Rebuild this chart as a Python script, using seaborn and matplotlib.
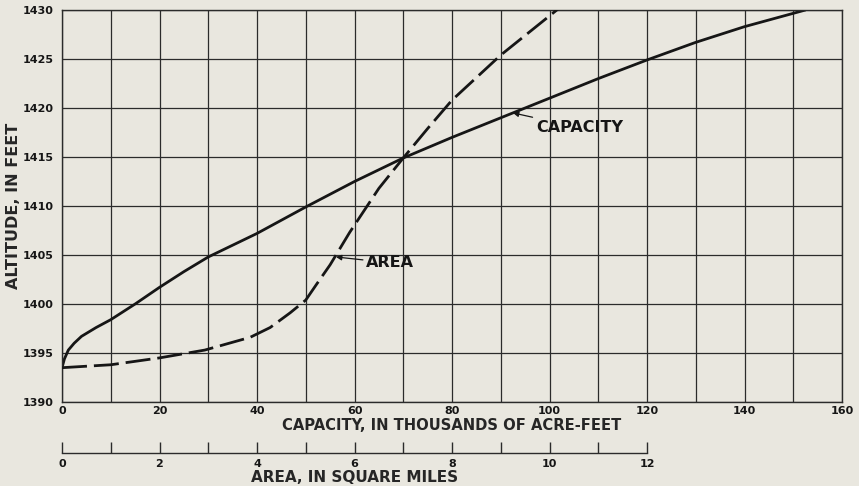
import matplotlib
matplotlib.use('Agg')
import matplotlib.pyplot as plt
from matplotlib.ticker import MultipleLocator
import pandas as pd
import seaborn as sns

# capacity curve, thousands of acre-feet vs altitude (ft)
capacity = [0, 0.5, 1.3, 2.5, 4, 7, 10, 15, 20, 25, 30, 40, 50, 60, 70,
            80, 90, 100, 110, 120, 130, 140, 152.5]
capacity_alt = [1393.5, 1394.4, 1395.3, 1396.0, 1396.7, 1397.6, 1398.4, 1400.0,
                1401.7, 1403.3, 1404.8, 1407.2, 1409.9, 1412.5, 1414.9, 1417.0,
                1419.0, 1421.0, 1423.0, 1424.9, 1426.7, 1428.3, 1430.0]

# area curve, square miles vs altitude (ft)
area = [0, 1, 2, 2.93, 3.86, 4.27, 4.68, 5.0, 5.22, 5.5, 5.9, 6.5, 7,
        7.5, 8, 9, 10, 10.2]
area_alt = [1393.5, 1393.8, 1394.5, 1395.3, 1396.6, 1397.6, 1399.1, 1400.4,
            1402.0, 1404.0, 1407.3, 1411.8, 1414.9, 1417.9, 1420.8,
            1425.4, 1429.4, 1430.2]

cap_ticks = list(range(0, 161, 20))
alt_ticks = list(range(1390, 1431, 5))
area_ticks = list(range(0, 13, 2))

PAPER = '#e9e7df'
INK = '#161616'
GRID = '#2b2b2b'

sns.set_style('white')
plt.rcParams['font.family'] = ['DejaVu Sans']
plt.rcParams['text.color'] = INK

W, H = 859, 486
fig = plt.figure(figsize=(W / 100, H / 100), dpi=100, facecolor=PAPER)

# main plot frame in pixel terms
left, right, top, bottom = 62, 842, 10, 402
ax = fig.add_axes([left / W, 1 - bottom / H, (right - left) / W, (bottom - top) / H])
ax.set_facecolor(PAPER)

cap_df = pd.DataFrame({'capacity': capacity, 'altitude': capacity_alt})
sns.lineplot(data=cap_df, x='capacity', y='altitude', ax=ax, color=INK,
             linewidth=2.0, sort=False)

ax.set_xlim(0, 160)
ax.set_ylim(1390, 1430)
ax.set_xticks(cap_ticks)
ax.xaxis.set_minor_locator(MultipleLocator(10))
ax.set_yticks(alt_ticks)
ax.grid(True, which='both', color=GRID, linewidth=0.9)
ax.tick_params(which='both', length=0, labelsize=8, colors=INK)
ax.tick_params(axis='x', pad=3)
ax.tick_params(axis='y', pad=6)
for lab in ax.get_xticklabels() + ax.get_yticklabels():
    lab.set_fontweight('bold')
for sp in ax.spines.values():
    sp.set_color(GRID)
    sp.set_linewidth(1.0)

ax.set_xlabel('CAPACITY, IN THOUSANDS OF ACRE-FEET', fontsize=10.6, fontweight='bold')
ax.xaxis.set_label_coords(0.5, -(425 - bottom) / (bottom - top), transform=ax.transAxes)
ax.xaxis.label.set_va('center')
ax.set_ylabel('ALTITUDE, IN FEET', fontsize=11.5, fontweight='bold')
ax.yaxis.set_label_coords(-(62 - 14) / (right - left), 0.5, transform=ax.transAxes)
ax.yaxis.label.set_va('center')

# area curve drawn on a twin x scale (1 sq mi = 10 thousand acre-feet on the grid)
ax_ar = ax.twiny()
area_df = pd.DataFrame({'area': area, 'altitude': area_alt})
sns.lineplot(data=area_df, x='area', y='altitude', ax=ax_ar, color=INK,
             linewidth=2.0, sort=False, linestyle=(0, (9, 2.5)))
ax_ar.set_xlim(0, 16)
ax_ar.set_ylim(1390, 1430)
ax_ar.axis('off')

arrow = dict(arrowstyle='-|>', color=INK, lw=0.9, mutation_scale=8, shrinkA=0, shrinkB=0)
ax.annotate('CAPACITY', xy=(92.5, 1419.5), xytext=(97.2, 1418.0),
            fontsize=11.5, fontweight='bold', va='center', ha='left', arrowprops=arrow)
ax.annotate('AREA', xy=(56.2, 1404.8), xytext=(62.4, 1404.2),
            fontsize=11.5, fontweight='bold', va='center', ha='left', arrowprops=arrow)

# separate area scale below
scale_y = 453
scale_w = 12 * (right - left) / 16
ax_sc = fig.add_axes([left / W, 1 - scale_y / H, scale_w / W, 0.02])
ax_sc.patch.set_visible(False)
for name in ['top', 'left', 'right']:
    ax_sc.spines[name].set_visible(False)
ax_sc.spines['bottom'].set_color(GRID)
ax_sc.spines['bottom'].set_linewidth(1.0)
ax_sc.set_xlim(0, 12)
ax_sc.set_yticks([])
ax_sc.set_xticks(area_ticks)
ax_sc.xaxis.set_minor_locator(MultipleLocator(1))
ax_sc.tick_params(which='both', bottom=True, direction='in', length=8, width=1.0,
                  color=GRID, labelsize=8, pad=4, labelcolor=INK)
for lab in ax_sc.get_xticklabels():
    lab.set_fontweight('bold')
ax_sc.set_xlabel('AREA, IN SQUARE MILES', fontsize=11, fontweight='bold', labelpad=1)

fig.savefig('out.png', dpi=100, facecolor=PAPER)
